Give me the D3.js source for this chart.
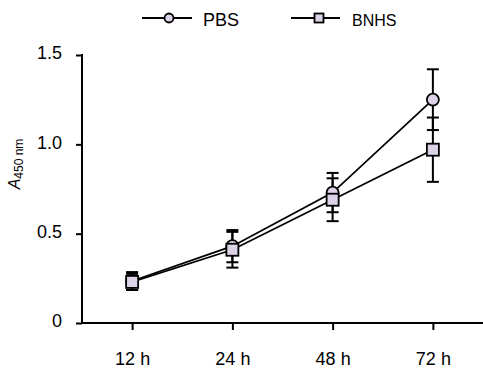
<!DOCTYPE html>
<html><head><meta charset="utf-8">
<script src="https://cdn.jsdelivr.net/npm/d3@7"></script>
<style>body{margin:0;background:#fff}svg{display:block}text{font-family:Arial,"Liberation Sans",sans-serif}</style>
</head><body><svg id="c" width="483" height="371"></svg>
<script>
const categories = ["12 h","24 h","48 h","72 h"];
const seriesNames = ["PBS","BNHS"];
const pbsMean = [0.235,0.43,0.73,1.25];
const pbsErr  = [0.05,0.09,0.11,0.17];
const bnhsMean = [0.23,0.41,0.69,0.97];
const bnhsErr  = [0.045,0.10,0.12,0.18];
const yTicks = [0,0.5,1.0,1.5];
const yTickLabels = ["0","0.5","1.0","1.5"];

const svg = d3.select("#c");
const fill = "#dcd3e8";
const FONT = "Arial,'Liberation Sans',sans-serif";
const x = d3.scalePoint().domain(categories).range([82,483]).padding(0.5);
const y = d3.scaleLinear().domain([0,1.5]).range([323,55]);

const series = [
  {name:seriesNames[0], mean:pbsMean, err:pbsErr, shape:"circle"},
  {name:seriesNames[1], mean:bnhsMean, err:bnhsErr, shape:"square"}
];

// axes
const yAxis = svg.append("g").attr("transform","translate(82,0)")
  .call(d3.axisLeft(y).tickValues(yTicks).tickFormat((d,i)=>yTickLabels[i]).tickSize(6).tickPadding(14));
const xAxis = svg.append("g").attr("transform","translate(0,323)")
  .call(d3.axisBottom(x).tickSize(7).tickPadding(22));
[yAxis,xAxis].forEach(g=>{
  g.select(".domain").remove();
  g.selectAll("line").attr("stroke","#000").attr("stroke-width",2);
  g.selectAll("text").attr("font-size",18).attr("fill","#000").attr("font-family",FONT);
});
yAxis.selectAll("text").attr("dy","0.22em");
svg.append("line").attr("x1",82).attr("x2",82).attr("y1",y(1.5)-1).attr("y2",y(0)+1).attr("stroke","#000").attr("stroke-width",2);
svg.append("line").attr("x1",81).attr("x2",483).attr("y1",y(0)).attr("y2",y(0)).attr("stroke","#000").attr("stroke-width",2);

// y label
const yl = svg.append("text").attr("transform","translate(20,164) rotate(-90)").attr("text-anchor","middle").attr("font-size",16);
yl.append("tspan").attr("font-style","italic").text("A");
yl.append("tspan").attr("font-size",12).attr("dy",3).text("450 nm");

// error bars
series.forEach(s=>{
  const g = svg.append("g");
  s.mean.forEach((m,i)=>{
    const cx = x(categories[i]);
    g.append("line").attr("x1",cx).attr("x2",cx).attr("y1",y(m+s.err[i])).attr("y2",y(m-s.err[i])).attr("stroke","#000").attr("stroke-width",2);
    [m+s.err[i], m-s.err[i]].forEach(v=>{
      g.append("line").attr("x1",cx-6).attr("x2",cx+6).attr("y1",y(v)).attr("y2",y(v)).attr("stroke","#000").attr("stroke-width",2);
    });
  });
});

// lines and markers
const line = d3.line().x((d,i)=>x(categories[i])).y(d=>y(d));
series.forEach(s=>{
  svg.append("path").attr("d",line(s.mean)).attr("fill","none").attr("stroke","#000").attr("stroke-width",1.8);
});
series.forEach(s=>{
  s.mean.forEach((m,i)=>{
    const cx = x(categories[i]), cy = y(m);
    if(s.shape==="circle") svg.append("circle").attr("cx",cx).attr("cy",cy).attr("r",6).attr("fill",fill).attr("stroke","#000").attr("stroke-width",1.8);
    else svg.append("rect").attr("x",cx-6).attr("y",cy-6).attr("width",12).attr("height",12).attr("fill",fill).attr("stroke","#000").attr("stroke-width",1.8);
  });
});

// legend
const leg = [{x1:142,x2:192,mx:169,tx:203,fs:18},{x1:291,x2:340,mx:319,tx:352,fs:16}];
series.forEach((s,k)=>{
  const L = leg[k], ly = 18;
  svg.append("line").attr("x1",L.x1).attr("x2",L.x2).attr("y1",ly).attr("y2",ly).attr("stroke","#000").attr("stroke-width",1.8);
  if(s.shape==="circle") svg.append("circle").attr("cx",L.mx).attr("cy",ly).attr("r",4.5).attr("fill",fill).attr("stroke","#000").attr("stroke-width",1.8);
  else svg.append("rect").attr("x",L.mx-4.5).attr("y",ly-4.5).attr("width",9).attr("height",9).attr("fill",fill).attr("stroke","#000").attr("stroke-width",1.8);
  svg.append("text").attr("x",L.tx).attr("y",26).attr("font-size",L.fs).attr("font-family",FONT).text(s.name);
});
</script></body></html>
